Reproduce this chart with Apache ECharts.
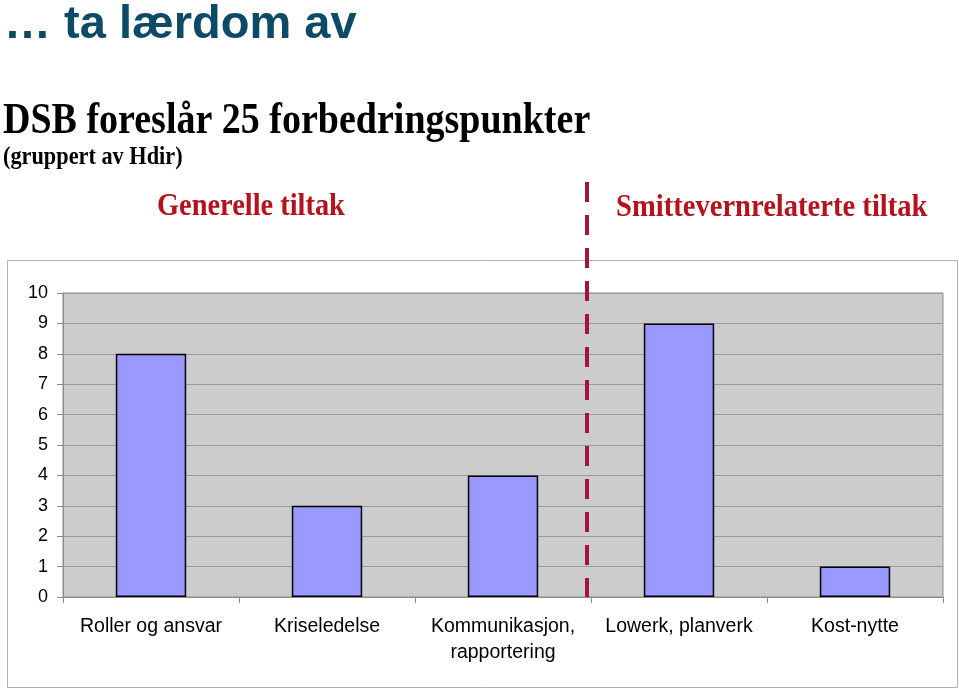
<!DOCTYPE html>
<html><head><meta charset="utf-8">
<script src="https://cdn.jsdelivr.net/npm/echarts@6/dist/echarts.min.js"></script>
<style>html,body{margin:0;padding:0;background:#fff}#c{width:959px;height:690px}</style>
</head><body><div id="c"></div>
<script>
var categories = ['Roller og ansvar', 'Kriseledelse', 'Kommunikasjon,\nrapportering', 'Lowerk, planverk', 'Kost-nytte'];
var values = [8, 3, 4, 9, 1];
var yTicks = [0, 10, 1]; // min, max, interval
var headline = '… ta lærdom av';
var titleText = 'DSB foreslår 25 forbedringspunkter';
var subtitleText = '(gruppert av Hdir)';
var groupLeft = 'Generelle tiltak';
var groupRight = 'Smittevernrelaterte tiltak';

var chart = echarts.init(document.getElementById('c'), null, {renderer: 'canvas'});
var serif = '"Liberation Serif", "Times New Roman", serif';
var sans = '"Liberation Sans", Arial, sans-serif';
chart.setOption({
  animation: false,
  backgroundColor: '#ffffff',
  grid: {left: 63, right: 16, top: 293, bottom: 93, show: true, backgroundColor: '#cccccc', borderColor: '#8c8c8c', borderWidth: 1},
  xAxis: {
    type: 'category', data: categories,
    axisLine: {show: true, lineStyle: {color: '#8c8c8c'}},
    axisTick: {show: true, length: 6, lineStyle: {color: '#8c8c8c'}},
    axisLabel: {fontFamily: sans, fontSize: 19.5, color: '#000', lineHeight: 26, margin: 17, interval: 0}
  },
  yAxis: {
    type: 'value', min: yTicks[0], max: yTicks[1], interval: yTicks[2],
    axisLine: {show: true, lineStyle: {color: '#8c8c8c'}},
    axisTick: {show: true, length: 6, lineStyle: {color: '#8c8c8c'}},
    axisLabel: {fontFamily: sans, fontSize: 18, color: '#000', margin: 15},
    splitLine: {show: true, lineStyle: {color: '#9a9a9a', width: 1}}
  },
  series: [{
    type: 'bar', data: values, barWidth: '40%',
    itemStyle: {color: '#9999ff', borderColor: '#000', borderWidth: 1.5}
  }],
  graphic: [
    {type: 'rect', z: -10, silent: true, shape: {x: 7.5, y: 260.5, width: 950, height: 427}, style: {fill: 'none', stroke: '#b0b0b0', lineWidth: 1}},
    {type: 'text', x: 4, y: 2, style: {text: headline, font: 'bold 47px ' + sans, fill: '#0d4a66'}},
    {type: 'text', x: 3, y: 100, scaleY: 1.15, style: {text: titleText, font: 'bold 38px ' + serif, fill: '#000'}},
    {type: 'text', x: 3, y: 146, scaleY: 1.1, style: {text: subtitleText, font: 'bold 22.3px ' + serif, fill: '#000'}},
    {type: 'text', x: 157, y: 192, scaleY: 1.1, style: {text: groupLeft, font: 'bold 28.4px ' + serif, fill: '#b5121b'}},
    {type: 'text', x: 616, y: 192, scaleY: 1.1, style: {text: groupRight, font: 'bold 28.6px ' + serif, fill: '#b5121b'}},
    {type: 'line', z: 100, shape: {x1: 587, y1: 182, x2: 587, y2: 597}, style: {stroke: '#a3163c', lineWidth: 4, lineDash: [20, 13]}}
  ]
});
</script></body></html>
